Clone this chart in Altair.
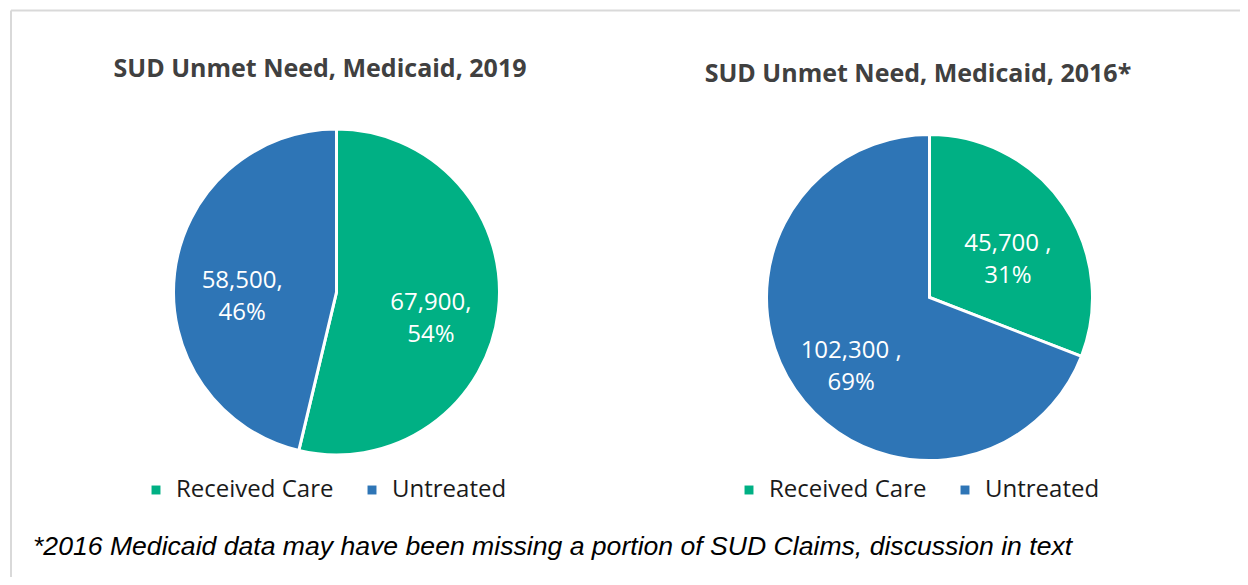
import altair as alt
import pandas as pd

categories = ["Received Care", "Untreated"]
colors = ["#00B084", "#2E75B6"]

values_2019 = [67900, 58500]
labels_2019 = ["67,900,\n54%", "58,500,\n46%"]

values_2016 = [45700, 102300]
labels_2016 = ["45,700 ,\n31%", "102,300 ,\n69%"]

title_2019 = "SUD Unmet Need, Medicaid, 2019"
title_2016 = "SUD Unmet Need, Medicaid, 2016*"
footnote = "*2016 Medicaid data may have been missing a portion of SUD Claims, discussion in text"

W, H = 1232, 569


def pie(values, labels, cx, cy, legend_x, legend_y):
    df = pd.DataFrame({"category": categories, "value": values,
                       "label": labels, "order": [0, 1]})
    base = alt.Chart(df).encode(
        theta=alt.Theta("value:Q", stack=True),
        order=alt.Order("order:Q"),
    )
    arcs = base.mark_arc(radius=163, stroke="white", strokeWidth=3).encode(
        x=alt.value(cx), y=alt.value(cy),
        color=alt.Color(
            "category:N",
            scale=alt.Scale(domain=categories, range=colors),
            legend=alt.Legend(
                title=None, orient="none", legendX=legend_x, legendY=legend_y,
                direction="horizontal", symbolType="square", symbolSize=80,
                symbolStrokeWidth=0, labelFont="Open Sans", labelFontSize=24,
                labelColor="#1a1a1a", labelOffset=8, columnPadding=26,
                labelLimit=400,
            ),
        ),
    )
    text = base.mark_text(
        radius=95, font="Open Sans", fontSize=24, color="white",
        lineBreak="\n", lineHeight=32, align="center", baseline="middle",
    ).encode(
        x=alt.value(cx), y=alt.value(cy),
        text="label:N", detail="category:N",
    )
    return arcs, text


a1, t1 = pie(values_2019, labels_2019, 328.5, 284, 136, 470)
a2, t2 = pie(values_2016, labels_2016, 921.5, 289.5, 729, 470)


def label(txt, x, y, **kw):
    return alt.Chart(pd.DataFrame({"t": [txt]})).mark_text(**kw).encode(
        x=alt.value(x), y=alt.value(y), text="t:N")


ttl1 = label(title_2019, 312, 61, font="Open Sans", fontSize=25, fontWeight="bold",
             color="#404040", align="center", baseline="middle")
ttl2 = label(title_2016, 910, 66, font="Open Sans", fontSize=25, fontWeight="bold",
             color="#404040", align="center", baseline="middle")
foot = label(footnote, 25, 539, font="Liberation Sans", fontSize=26.6, fontStyle="italic",
             color="#000000", align="left", baseline="middle")

border_df = pd.DataFrame({"k": [0]})
top_line = alt.Chart(border_df).mark_rule(color="#D9D9D9", strokeWidth=2).encode(
    x=alt.value(3), x2=alt.value(W), y=alt.value(2.5))
left_line = alt.Chart(border_df).mark_rule(color="#D9D9D9", strokeWidth=2).encode(
    x=alt.value(3), y=alt.value(2.5), y2=alt.value(H))

chart = alt.layer(
    top_line, left_line, a1, t1, a2, t2, ttl1, ttl2, foot
).resolve_scale(
    theta="independent", color="independent"
).resolve_legend(
    color="independent"
).properties(
    width=W, height=H, padding=0,
    autosize=alt.AutoSizeParams(type="fit", contains="padding"),
).configure_view(strokeWidth=0)

chart.save("out.html", embed_options={"renderer": "svg", "actions": False})
